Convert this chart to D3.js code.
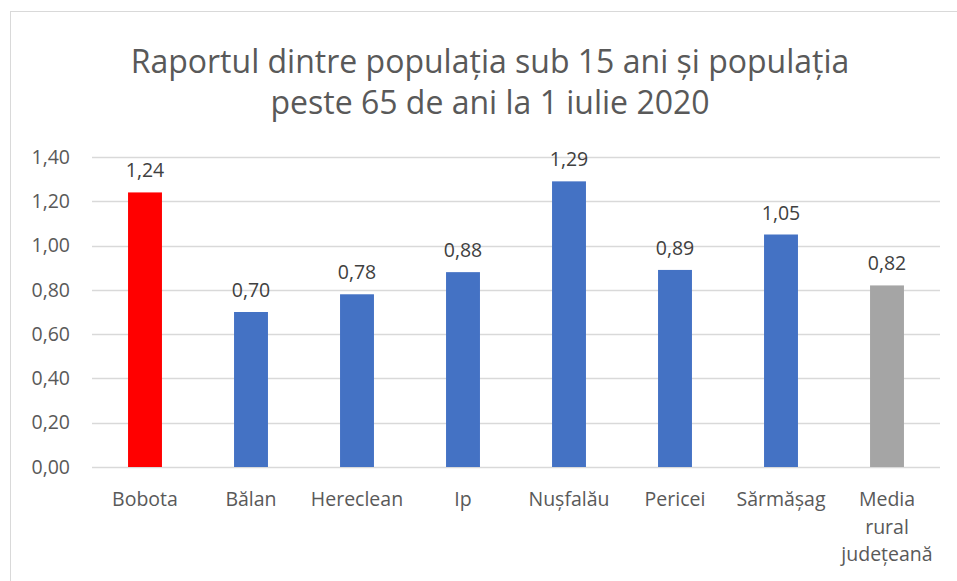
<!DOCTYPE html>
<html>
<head>
<meta charset="utf-8">
<script src="https://cdn.jsdelivr.net/npm/d3@7"></script>
<style>
  body { margin: 0; background: #fff; }
  svg { font-family: "Open Sans", "Liberation Sans", sans-serif; }
</style>
</head>
<body>
<div id="chart"></div>
<script>
const categories = ['Bobota', 'Bălan', 'Hereclean', 'Ip', 'Nușfalău', 'Pericei', 'Sărmășag', 'Media rural județeană'];
const values = [1.24, 0.70, 0.78, 0.88, 1.29, 0.89, 1.05, 0.82];
const barColors = ['#ff0000', '#4472c4', '#4472c4', '#4472c4', '#4472c4', '#4472c4', '#4472c4', '#a5a5a5'];
const yTicks = [0, 0.2, 0.4, 0.6, 0.8, 1.0, 1.2, 1.4];
const titleLines = ['Raportul dintre populația sub 15 ani și populația', 'peste 65 de ani la 1 iulie 2020'];

const width = 957, height = 581;
const margin = { left: 92, right: 17, top: 157, bottom: 114 };

const fmt = d => d3.format('.2f')(d).replace('.', ',');

const svg = d3.select('#chart').append('svg')
  .attr('width', width)
  .attr('height', height);

// chart border
svg.append('rect')
  .attr('x', 10.5).attr('y', 11.5)
  .attr('width', width).attr('height', height)
  .attr('fill', 'none')
  .attr('stroke', '#d9d9d9');

const title = svg.append('text')
  .attr('text-anchor', 'middle')
  .attr('fill', '#595959')
  .attr('font-size', 32);
titleLines.forEach((t, i) => {
  title.append('tspan').attr('x', 490).attr('y', 73 + i * 41).text(t);
});

const x = d3.scaleBand()
  .domain(categories)
  .range([margin.left, width - margin.right])
  .paddingInner(0.68)
  .paddingOuter(0.34);

const y = d3.scaleLinear()
  .domain([0, 1.4])
  .range([height - margin.bottom, margin.top]);

// gridlines
svg.append('g')
  .selectAll('line')
  .data(yTicks)
  .join('line')
  .attr('x1', margin.left).attr('x2', width - margin.right)
  .attr('y1', d => Math.round(y(d)) + 0.5)
  .attr('y2', d => Math.round(y(d)) + 0.5)
  .attr('stroke', '#d9d9d9')
  .attr('stroke-width', 1.3);

// y axis labels
const yAxis = svg.append('g')
  .attr('transform', `translate(${margin.left},0)`)
  .call(d3.axisLeft(y).tickValues(yTicks).tickFormat(fmt).tickSize(0).tickPadding(22));
yAxis.select('.domain').remove();
yAxis.selectAll('text')
  .attr('fill', '#595959')
  .attr('font-size', 19.5)
  .attr('font-family', '"Open Sans", "Liberation Sans", sans-serif');

// bars
svg.append('g')
  .selectAll('rect')
  .data(values)
  .join('rect')
  .attr('x', (d, i) => x(categories[i]))
  .attr('y', d => y(d))
  .attr('width', x.bandwidth())
  .attr('height', d => y(0) - y(d))
  .attr('fill', (d, i) => barColors[i]);

// value labels
svg.append('g')
  .selectAll('text')
  .data(values)
  .join('text')
  .attr('x', (d, i) => x(categories[i]) + x.bandwidth() / 2)
  .attr('y', d => y(d) - 15)
  .attr('text-anchor', 'middle')
  .attr('fill', '#404040')
  .attr('font-size', 19.5)
  .text(fmt);

// category labels
const wrapLabel = s => s === 'Media rural județeană' ? ['Media', 'rural', 'județeană'] : [s];
const cat = svg.append('g')
  .selectAll('text')
  .data(categories)
  .join('text')
  .attr('text-anchor', 'middle')
  .attr('fill', '#595959')
  .attr('font-size', 19.5);
cat.each(function (d) {
  const cx = x(d) + x.bandwidth() / 2;
  wrapLabel(d).forEach((line, i) => {
    d3.select(this).append('tspan').attr('x', cx).attr('y', 506 + i * 27.5).text(line);
  });
});
</script>
</body>
</html>
